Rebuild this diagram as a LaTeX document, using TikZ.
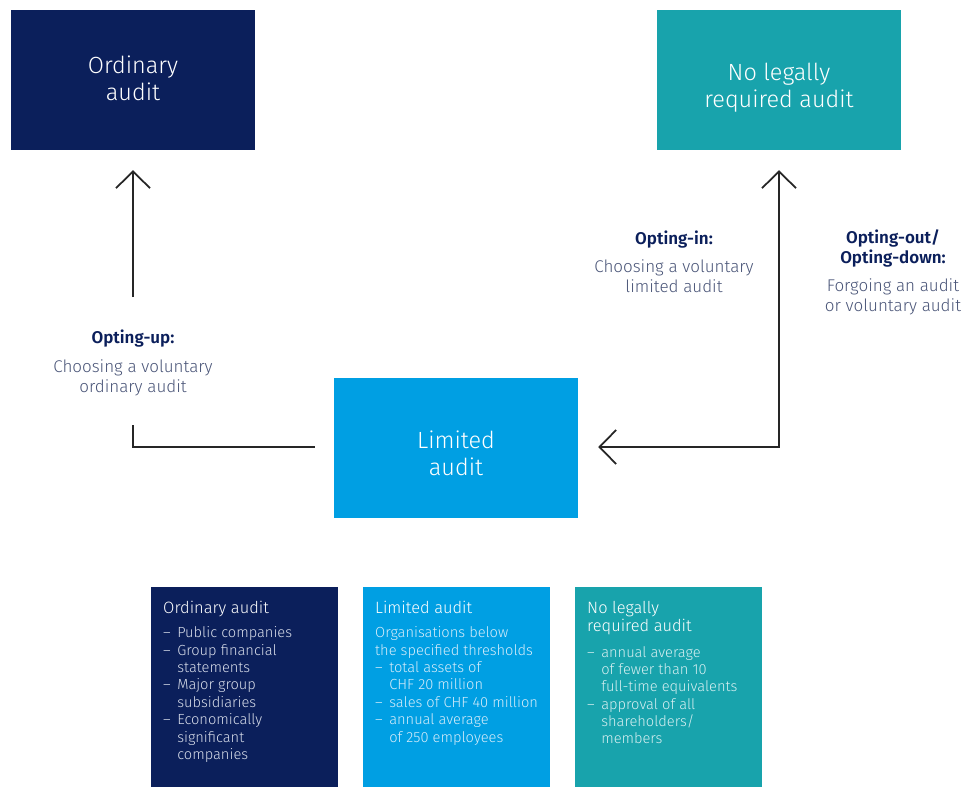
\documentclass[tikz,border=0pt]{standalone}
\usepackage{fontspec}
\setmainfont{Fira Sans}[UprightFont=* Light, BoldFont=* SemiBold]
\usetikzlibrary{arrows.meta}
\definecolor{navy}{RGB}{11,31,91}
\definecolor{tealc}{RGB}{24,163,172}
\definecolor{lblue}{RGB}{0,159,227}
\definecolor{labgray}{RGB}{74,85,120}
\definecolor{navytxt}{RGB}{216,221,234}
\definecolor{bluetxt}{RGB}{214,236,250}
\definecolor{tealtxt}{RGB}{214,239,241}
\newcommand\bxdash{\makebox[12pt][l]{–}}
\newcommand\bxind{\hspace*{12pt}}
\newcommand\bxlow[2]{\raisebox{#1}[0pt][0pt]{\begin{tabular}{@{}c@{}}#2\end{tabular}}}
\begin{document}
\begin{tikzpicture}[x=0.03cm,y=-0.03cm,
  big/.style={rectangle, minimum width=7.32cm, minimum height=4.2cm, inner sep=0pt,
    text=white, font=\fontsize{20}{23}\selectfont},
  bbox/.style={rectangle, anchor=north west, minimum width=5.61cm, minimum height=6cm, inner sep=0pt},
  btext/.style={anchor=north west, inner sep=0pt, align=left, font=\fontsize{12.5}{14.8}\selectfont},
  lab/.style={align=center, text=labgray, font=\fontsize{14.5}{17}\selectfont},
  conn/.style={line width=1.5pt, black!85},
  arr/.style={conn, -{Straight Barb[length=0.5cm, width=1.02cm]}},
  arrb/.style={conn, {Straight Barb[length=0.5cm, width=1.02cm]}-{Straight Barb[length=0.5cm, width=1.02cm]}}
]
\useasboundingbox (0,0) rectangle (963,787);
\fill[white] (0,0) rectangle (963,787);

% main boxes
\node[big, fill=navy] (ord) at (133,80) {\bxlow{-6.7pt}{Ordinary\\audit}};
\node[big, fill=tealc] (nola) at (779,80) {\bxlow{-12.7pt}{No legally\\required audit}};
\node[big, fill=lblue] (lim) at (456,448) {\bxlow{-12.7pt}{Limited\\audit}};

% connectors
\coordinate (uptail) at (133,297);
\coordinate (lowend) at (133,425);
\draw[arr] (uptail) -- ([yshift=-0.6cm]ord.south);
\draw[conn] ([xshift=-0.57cm]lim.west |- 0,447) -| (lowend);
\draw[arrb] ([xshift=0.6cm]lim.east |- 0,447) -| ([yshift=-0.6cm]nola.south);

% labels
\node[lab] (uplab) at (133,363) {\textbf{\textcolor{navy}{Opting-up:}}\\[8pt]Choosing a voluntary\\ordinary audit};
\node[lab] (inlab) at (674,262) {\textbf{\textcolor{navy}{Opting-in:}}\\[7pt]Choosing a voluntary\\limited audit};
\node[lab] (outlab) at (893,272) {\textbf{\textcolor{navy}{Opting-out/}}\\\textbf{\textcolor{navy}{Opting-down:}}\\[7pt]Forgoing an audit\\or voluntary audit};

% bottom boxes
\node[bbox, fill=navy] (bord) at (151,587) {};
\node[bbox, fill=lblue] (blim) at (363,587) {};
\node[bbox, fill=tealc] (bnola) at (575,587) {};

\node[btext, text=navytxt] (tord) at (163,601) {%
{\color{white}\fontsize{14}{17}\selectfont Ordinary audit}\\[6pt]
\bxdash Public companies\\
\bxdash Group financial\\
\bxind statements\\
\bxdash Major group\\
\bxind subsidiaries\\
\bxdash Economically\\
\bxind significant\\
\bxind companies};

\node[btext, text=bluetxt] (tlim) at (375,601) {%
{\color{white}\fontsize{14}{17}\selectfont Limited audit}\\[6pt]
Organisations below\\
the specified thresholds\\
\bxdash total assets of\\
\bxind CHF 20 million\\
\bxdash sales of CHF 40 million\\
\bxdash annual average\\
\bxind of 250 employees};

\node[btext, text=tealtxt] (tnola) at (587,601) {%
{\color{white}\fontsize{14}{17}\selectfont No legally}\\[0.8pt]
{\color{white}\fontsize{14}{17}\selectfont required audit}\\[6.8pt]
\bxdash annual average\\
\bxind of fewer than 10\\
\bxind full-time equivalents\\
\bxdash approval of all\\
\bxind shareholders/\\
\bxind members};
\end{tikzpicture}
\end{document}
